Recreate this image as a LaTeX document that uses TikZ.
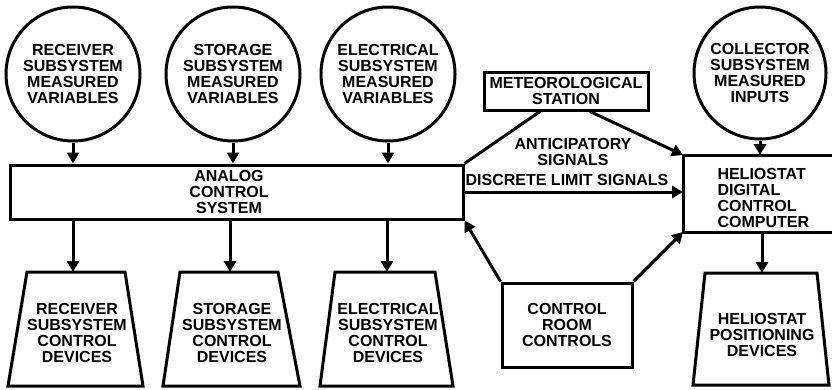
\documentclass[tikz,border=0pt]{standalone}
\usepackage{fontspec}
\setmainfont{Liberation Sans}
\usetikzlibrary{arrows.meta,calc}
\begin{document}
\begin{tikzpicture}[x=1pt,y=-1pt, line width=3pt,
  txt/.style={font=\bfseries\fontsize{16}{15.8}\selectfont, align=center, inner sep=0pt},
  circ/.style={circle, draw, minimum size=134pt, inner sep=0pt, txt},
  box/.style={draw, rectangle, inner sep=0pt},
  arr/.style={-{Triangle[width=12pt,length=11pt]}},
  ]
\useasboundingbox (0,0) rectangle (832,389);
% measured-variable circles
\node[circ] (rv) at (73,74) {RECEIVER\\SUBSYSTEM\\MEASURED\\VARIABLES};
\node[circ] (sv) at (233,74) {STORAGE\\SUBSYSTEM\\MEASURED\\VARIABLES};
\node[circ] (ev) at (388,74) {ELECTRICAL\\SUBSYSTEM\\MEASURED\\VARIABLES};
\node[circ, minimum size=132pt] (cv) at (760,73) {COLLECTOR\\SUBSYSTEM\\MEASURED\\INPUTS};
% analog control system
\node[box, minimum width=453pt, minimum height=54pt] (acs) at (236.5,192) {};
\node[txt] (acst) at (229,192) {ANALOG\\CONTROL\\SYSTEM};
% meteorological station
\node[box, txt, minimum width=164pt, minimum height=38pt] (met) at (566,91) {METEOROLOGICAL\\STATION};
% control room
\node[box, txt, minimum width=130pt, minimum height=84pt] (crc) at (567,325) {CONTROL\\ROOM\\CONTROLS};
% heliostat digital control computer (open to the right)
\coordinate (hTL) at (683,155);
\coordinate (hBL) at (683,232);
\draw (832,155) -- (hTL) -- (hBL) -- (832,232);
\node[txt, align=left, anchor=west] (hdc) at (716,198) {HELIOSTAT\\DIGITAL\\CONTROL\\COMPUTER};
% control device trapezoids
\coordinate (rtop) at (73,272);
\draw (27,272) -- (125,272) -- (143,386) -- (8,386) -- cycle;
\node[txt] (rcd) at (77,333) {RECEIVER\\SUBSYSTEM\\CONTROL\\DEVICES};
\coordinate (stop) at (230,272);
\draw (180,272) -- (278,272) -- (300,386) -- (163,386) -- cycle;
\node[txt] (scd) at (232,333) {STORAGE\\SUBSYSTEM\\CONTROL\\DEVICES};
\coordinate (etop) at (387,272);
\draw (335,272) -- (435,272) -- (453,386) -- (320,386) -- cycle;
\node[txt] (ecd) at (388,333) {ELECTRICAL\\SUBSYSTEM\\CONTROL\\DEVICES};
\coordinate (htop) at (762,273);
\draw (705,273) -- (817,273) -- (829,385) -- (693,385) -- cycle;
\node[txt] (hpd) at (762,335) {HELIOSTAT\\POSITIONING\\DEVICES};
% inputs to the analog system
\draw[arr] (rv.south) -- (rv.south |- acs.north);
\draw[arr] (sv.south) -- (sv.south |- acs.north);
\draw[arr] (ev.south) -- (ev.south |- acs.north);
\draw[arr] (cv.south) -- (cv.south |- hTL);
% outputs to devices
\draw[arr] (rtop |- acs.south) -- (rtop);
\draw[arr] (stop |- acs.south) -- (stop);
\draw[arr] (etop |- acs.south) -- (etop);
\draw[arr] (htop |- hBL) -- (htop);
% meteorological connections
\draw ($(met.south)+(-26,0)$) -- (acs.north east);
\draw[arr] ($(met.south)+(24,0)$) -- (hTL);
\node[txt] (antic) at (573,152) {ANTICIPATORY\\SIGNALS};
\draw[arr] (acs.east) -- (acs.east -| hTL);
\node[txt] (dls) at (567,180) {DISCRETE LIMIT SIGNALS};
% control room connections
\draw[arr] (crc.north west) -- (acs.south east);
\draw[arr] (crc.north east) -- (hBL);
\end{tikzpicture}
\end{document}
